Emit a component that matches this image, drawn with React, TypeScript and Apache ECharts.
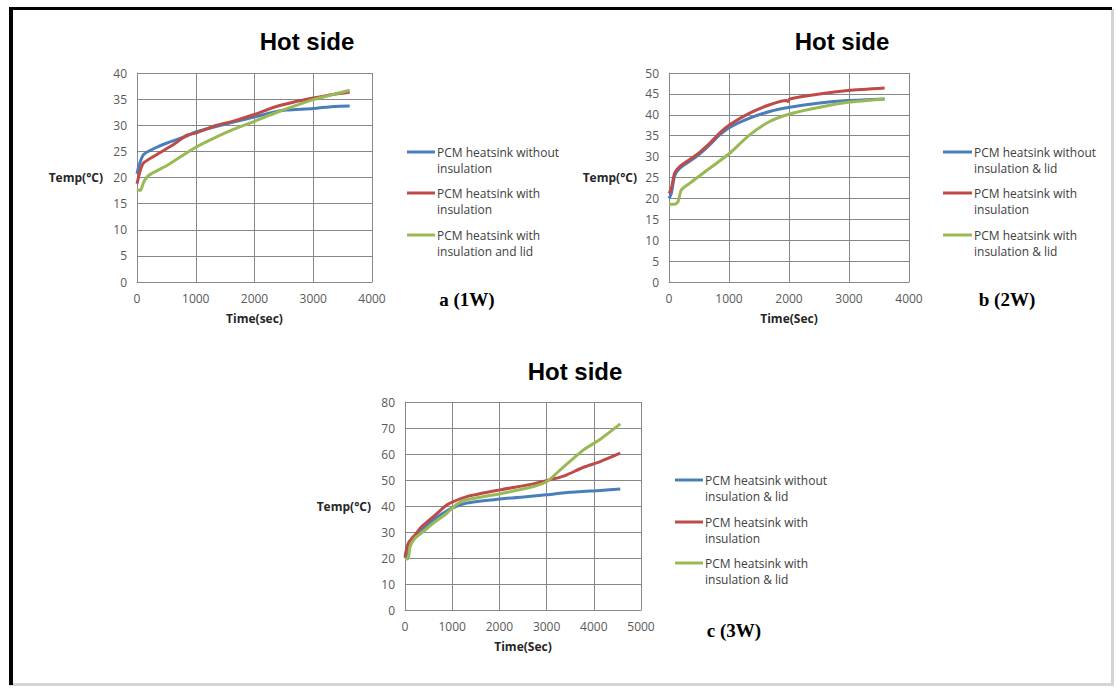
import React, { useEffect, useRef } from "react";
import * as echarts from "echarts";

// ---------- data ----------
const chartTitles = ["Hot side", "Hot side", "Hot side"];
const panelLabels = ["a (1W)", "b (2W)", "c (3W)"];
const xNames = ["Time(sec)", "Time(Sec)", "Time(Sec)"];
const yName = "Temp(°C)";
const xMax = [4000, 4000, 5000];
const yMax = [40, 50, 80];
const yStep = [5, 5, 10];

const legendA = ["PCM heatsink without\ninsulation", "PCM heatsink with\ninsulation", "PCM heatsink with\ninsulation and lid"];
const legendB = ["PCM heatsink without\ninsulation & lid", "PCM heatsink with\ninsulation", "PCM heatsink with\ninsulation & lid"];
const legendC = ["PCM heatsink without\ninsulation & lid", "PCM heatsink with\ninsulation", "PCM heatsink with\ninsulation & lid"];

// chart a (1W)
const aBlue = [[0, 20.7], [40, 22.5], [113, 24.4], [300, 25.6], [509, 26.6], [792, 27.7], [1000, 28.7], [1358, 29.8], [1641, 30.6], [2008, 31.6], [2320, 32.5], [2546, 32.9], [3000, 33.2], [3338, 33.6], [3620, 33.7]];
const aRed = [[0, 18.8], [57, 21.4], [113, 22.8], [340, 24.4], [622, 26.3], [849, 28.1], [1000, 28.5], [1358, 30.0], [1641, 30.8], [2008, 32.1], [2320, 33.4], [2659, 34.4], [3000, 35.2], [3338, 35.9], [3620, 36.3]];
const aGreen = [[0, 17.7], [57, 17.5], [113, 19.1], [198, 20.4], [509, 22.3], [1000, 25.8], [1358, 27.8], [1641, 29.2], [2008, 30.8], [2320, 32.2], [2659, 33.6], [3000, 34.9], [3338, 35.9], [3620, 36.7]];

// chart b (2W)
const bBlue = [[0, 20.0], [39, 21.2], [94, 25.4], [178, 27.2], [456, 30.0], [678, 32.8], [844, 35.2], [1011, 37.0], [1344, 39.2], [1678, 40.8], [2011, 41.8], [2511, 42.8], [2983, 43.4], [3594, 43.8]];
const bRed = [[0, 21.2], [39, 22.4], [94, 26.0], [178, 27.6], [456, 30.4], [678, 33.2], [844, 35.6], [1011, 37.6], [1344, 40.4], [1678, 42.4], [1956, 43.4], [1983, 43.2], [2011, 43.8], [2511, 45.0], [2983, 45.8], [3594, 46.4]];
const bGreen = [[0, 18.6], [94, 18.6], [150, 19.2], [206, 22.0], [344, 23.6], [678, 27.2], [1011, 30.8], [1344, 35.2], [1678, 38.4], [2011, 40.2], [2511, 41.8], [2983, 43.0], [3594, 43.8]];

// chart c (3W)
const cBlue = [[0, 19.9], [71, 23.1], [177, 27.2], [318, 30.2], [601, 34.7], [997, 39.2], [1308, 41.1], [2015, 42.7], [3006, 44.3], [3430, 45.2], [4137, 46.0], [4561, 46.5]];
const cRed = [[0, 20.5], [71, 25.7], [212, 28.9], [354, 32.1], [601, 35.9], [884, 40.4], [1025, 41.7], [1308, 43.6], [2015, 46.2], [2723, 48.5], [3006, 49.8], [3289, 51.1], [3430, 52.0], [3784, 54.9], [4137, 57.1], [4561, 60.3]];
const cGreen = [[0, 19.5], [71, 19.9], [106, 24.4], [212, 27.6], [389, 30.2], [601, 33.4], [884, 37.2], [1096, 40.7], [1308, 42.4], [2015, 44.7], [2723, 47.5], [3006, 49.4], [3289, 53.9], [3784, 61.6], [4137, 65.7], [4561, 71.6]];

const colors = ["#4A7EBB", "#BE4B48", "#98B954"];

export default function App() {
  const ref = useRef<HTMLDivElement>(null);
  useEffect(() => {
    if (!ref.current) return;
    const chart = echarts.init(ref.current, null, { renderer: "svg" });

    const grids = [
      { left: 137, top: 73, width: 235, height: 209 },
      { left: 669, top: 73, width: 240, height: 209 },
      { left: 405, top: 402, width: 236, height: 208 },
    ];
    const titleCx = [302, 837, 570];
    const titleTop = [24, 24, 354];
    const gridColor = "#878787";
    const labelFont = "'Open Sans', 'Noto Sans', sans-serif";

    const xAxes = grids.map((_, i) => ({
      type: "value",
      gridIndex: i,
      min: 0,
      max: xMax[i],
      interval: 1000,
      name: xNames[i],
      nameLocation: "middle",
      nameGap: 30,
      nameTextStyle: { fontFamily: labelFont, fontWeight: "bold", fontSize: 12, color: "#262626", verticalAlign: "top" },
      axisLine: { show: true, lineStyle: { color: gridColor, width: 1 } },
      axisTick: { show: false },
      axisLabel: { color: "#595959", fontSize: 12, fontFamily: labelFont, margin: 10, formatter: (v: number) => String(v) },
      splitLine: { show: true, lineStyle: { color: gridColor, width: 1 } },
    }));
    const yAxes = grids.map((_, i) => ({
      type: "value",
      gridIndex: i,
      min: 0,
      max: yMax[i],
      interval: yStep[i],
      name: yName,
      nameLocation: "middle",
      nameRotate: 0,
      nameGap: i === 1 ? 32 : 34,
      nameTextStyle: { fontFamily: labelFont, fontWeight: "bold", fontSize: 12, color: "#262626", align: "right" },
      axisLine: { show: true, lineStyle: { color: gridColor, width: 1 } },
      axisTick: { show: false },
      axisLabel: { color: "#595959", fontSize: 12, fontFamily: labelFont, margin: 10 },
      splitLine: { show: true, lineStyle: { color: gridColor, width: 1 } },
    }));

    const seriesData = [
      [aBlue, aRed, aGreen],
      [bBlue, bRed, bGreen],
      [cBlue, cRed, cGreen],
    ];
    const legends = [legendA, legendB, legendC];
    const series: any[] = [];
    seriesData.forEach((group, gi) => {
      group.forEach((d, si) => {
        series.push({
          type: "line",
          name: legends[gi][si].replace("\n", " "),
          xAxisIndex: gi,
          yAxisIndex: gi,
          data: d,
          showSymbol: false,
          smooth: 0.25,
          lineStyle: { color: colors[si], width: 3 },
          itemStyle: { color: colors[si] },
          z: 3 + si,
        });
      });
    });

    // legend graphics
    const legendPos = [
      { lx1: 407, lx2: 435, tx: 437, ys: [152, 193, 235] },
      { lx1: 943, lx2: 972, tx: 974, ys: [152, 193, 235] },
      { lx1: 675, lx2: 703, tx: 705, ys: [480, 522, 563] },
    ];
    const graphics: any[] = [
      // frame
      { type: "rect", shape: { x: 9, y: 7, width: 1104, height: 677 }, style: { fill: "#ffffff" }, z: -10 },
      { type: "rect", shape: { x: 1111, y: 9, width: 3, height: 676 }, style: { fill: "#d4d4d4" }, z: -9 },
      { type: "rect", shape: { x: 10, y: 683, width: 1104, height: 3 }, style: { fill: "#d4d4d4" }, z: -9 },
      { type: "rect", shape: { x: 9, y: 7, width: 4, height: 678 }, style: { fill: "#000000" }, z: -8 },
      { type: "rect", shape: { x: 9, y: 7, width: 1103, height: 3 }, style: { fill: "#000000" }, z: -8 },
    ];
    legendPos.forEach((p, gi) => {
      p.ys.forEach((y, si) => {
        graphics.push({
          type: "line",
          shape: { x1: p.lx1, y1: y, x2: p.lx2, y2: y },
          style: { stroke: colors[si], lineWidth: 3 },
        });
        graphics.push({
          type: "text",
          x: p.tx,
          y: y - 8,
          style: {
            text: legends[gi][si],
            fill: "#404040",
            font: "12px 'Open Sans', 'Noto Sans', sans-serif",
            lineHeight: 16.5,
            textVerticalAlign: "top",
          },
        });
      });
    });
    const panelPos = [
      [467, 299],
      [1007, 299],
      [734, 630],
    ];
    panelPos.forEach((p, i) => {
      graphics.push({
        type: "text",
        x: p[0],
        y: p[1],
        style: {
          text: panelLabels[i],
          fill: "#000000",
          font: "bold 19px 'Liberation Serif', 'Times New Roman', serif",
          textAlign: "center",
          textVerticalAlign: "middle",
        },
      });
    });

    chart.setOption({
      animation: false,
      backgroundColor: "#ffffff",
      title: chartTitles.map((t, i) => ({
        text: t,
        left: titleCx[i],
        top: titleTop[i],
        textAlign: "center",
        textStyle: { fontFamily: "'Liberation Sans', Arial, sans-serif", fontWeight: "bold", fontSize: 24, color: "#000000" },
      })),
      grid: grids,
      xAxis: xAxes,
      yAxis: yAxes,
      series,
      graphic: graphics,
    });
    return () => chart.dispose();
  }, []);
  return <div ref={ref} style={{ position: "absolute", left: 0, top: 0, width: 1116, height: 688 }} />;
}
